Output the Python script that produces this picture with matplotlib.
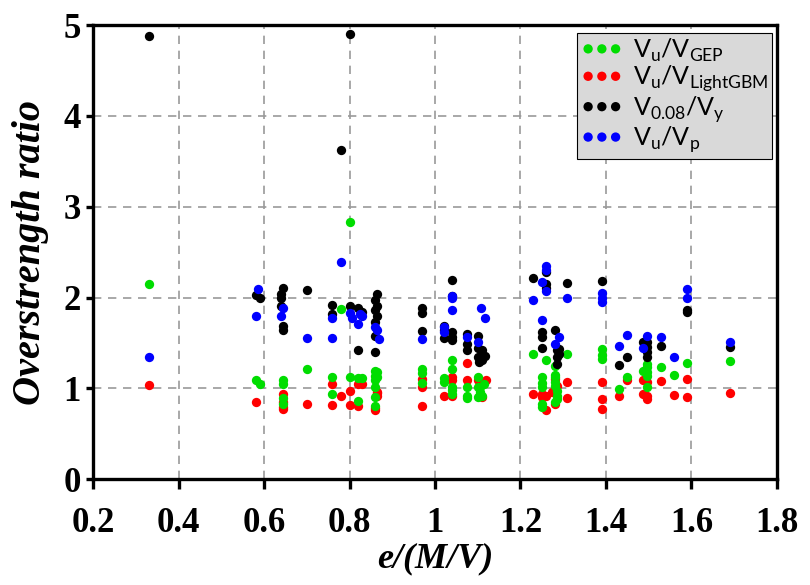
import matplotlib
matplotlib.use('Agg')
import matplotlib.pyplot as plt

# Vu/V_GEP
gep_x = [0.33, 0.58, 0.59, 0.645, 0.645, 0.645, 0.645, 0.70, 0.76, 0.76, 0.78, 0.80, 0.80, 0.82, 0.83, 0.82,
         0.86, 0.865, 0.86, 0.865, 0.86, 0.86, 0.86, 0.86, 0.97, 0.97, 0.97, 1.02, 1.02,
         1.04, 1.04, 1.04, 1.04, 1.04, 1.075, 1.075, 1.075, 1.10, 1.10, 1.10, 1.105, 1.105, 1.11, 1.115,
         1.23, 1.25, 1.25, 1.25, 1.25, 1.25, 1.26, 1.28, 1.28, 1.28, 1.28, 1.28, 1.285, 1.285, 1.285, 1.28,
         1.31, 1.39, 1.39, 1.39, 1.43, 1.45, 1.487, 1.497, 1.497, 1.497, 1.497, 1.497, 1.53, 1.56, 1.59, 1.69]
gep_y = [2.15, 1.09, 1.05, 1.09, 1.05, 0.89, 0.83, 1.21, 1.12, 0.94, 1.87, 2.83, 1.12, 1.11, 1.11, 0.86,
         1.19, 1.18, 1.14, 1.12, 1.09, 1.01, 0.90, 0.81, 1.21, 1.17, 1.06, 1.11, 1.07,
         1.31, 1.21, 1.01, 0.98, 0.94, 1.01, 0.92, 0.89, 1.12, 1.01, 0.90, 1.02, 0.96, 0.91, 1.05,
         1.38, 1.12, 1.06, 1.01, 0.83, 0.79, 1.31, 1.25, 1.15, 1.12, 1.07, 1.03, 0.97, 0.92, 0.88, 0.85,
         1.38, 1.43, 1.37, 1.32, 0.99, 1.13, 1.19, 1.27, 1.23, 1.18, 1.14, 1.01, 1.23, 1.15, 1.28, 1.30]

# Vu/V_LightGBM
lgbm_x = [0.33, 0.58, 0.645, 0.645, 0.645, 0.645, 0.70, 0.76, 0.76, 0.78, 0.80, 0.80, 0.82, 0.83, 0.82,
          0.865, 0.865, 0.865, 0.86, 0.86, 0.97, 0.97, 0.97, 1.02, 1.04, 1.04, 1.04, 1.075, 1.075,
          1.10, 1.11, 1.12, 1.23, 1.25, 1.25, 1.26, 1.26, 1.28, 1.275, 1.285, 1.28, 1.31, 1.31,
          1.39, 1.39, 1.39, 1.43, 1.45, 1.487, 1.497, 1.487, 1.497, 1.497, 1.53, 1.56, 1.59, 1.59, 1.69]
lgbm_y = [1.04, 0.85, 0.94, 0.85, 0.79, 0.77, 0.83, 1.05, 0.82, 0.91, 0.97, 0.82, 1.05, 1.05, 0.80,
          0.96, 0.95, 0.92, 0.78, 0.76, 1.10, 1.02, 0.81, 0.92, 1.12, 1.09, 0.92, 1.28, 1.09,
          1.09, 0.90, 1.09, 0.94, 0.94, 0.90, 0.92, 0.76, 1.10, 0.96, 1.03, 0.83, 1.07, 0.89,
          1.07, 0.88, 0.77, 0.92, 1.09, 1.09, 1.07, 0.94, 0.92, 0.88, 1.08, 0.93, 1.10, 0.90, 0.95]

# V0.08/Vy
v008_x = [0.33, 0.58, 0.59, 0.645, 0.64, 0.64, 0.64, 0.645, 0.645, 0.70, 0.76, 0.76, 0.78, 0.80,
          0.80, 0.82, 0.83, 0.82, 0.865, 0.86, 0.865, 0.86, 0.865, 0.86, 0.86, 0.86,
          0.97, 0.97, 0.97, 1.02, 1.02, 1.02, 1.04, 1.04, 1.04, 1.04, 1.04, 1.075, 1.075, 1.075,
          1.10, 1.10, 1.10, 1.102, 1.11, 1.118, 1.11, 1.23, 1.26, 1.26, 1.26, 1.25, 1.25, 1.25,
          1.28, 1.285, 1.285, 1.285, 1.29, 1.29, 1.31, 1.39, 1.43, 1.45,
          1.487, 1.497, 1.497, 1.497, 1.497, 1.53, 1.59, 1.59, 1.69]
v008_y = [4.88, 2.03, 2.00, 2.10, 2.04, 2.00, 1.91, 1.69, 1.64, 2.08, 1.92, 1.82, 3.62, 4.90,
          1.91, 1.89, 1.84, 1.42, 2.04, 1.97, 1.91, 1.86, 1.80, 1.73, 1.58, 1.40,
          1.88, 1.83, 1.63, 1.69, 1.64, 1.55, 2.19, 2.02, 1.62, 1.56, 1.53, 1.60, 1.49, 1.42,
          1.58, 1.44, 1.34, 1.29, 1.42, 1.36, 1.31, 2.22, 2.28, 2.15, 2.10, 1.62, 1.57, 1.44,
          1.64, 1.42, 1.34, 1.27, 1.43, 1.38, 2.16, 2.18, 1.26, 1.35,
          1.51, 1.51, 1.45, 1.40, 1.35, 1.47, 1.86, 1.84, 1.45]

# Vu/Vp
vp_x = [0.33, 0.585, 0.58, 0.645, 0.64, 0.70, 0.76, 0.76, 0.78, 0.80, 0.805, 0.825, 0.83, 0.82,
        0.86, 0.865, 0.87, 0.97, 1.02, 1.02, 1.04, 1.04, 1.04, 1.075, 1.10, 1.108, 1.118,
        1.23, 1.25, 1.25, 1.26, 1.26, 1.26, 1.28, 1.29, 1.31, 1.39, 1.39, 1.39, 1.43, 1.45,
        1.487, 1.497, 1.53, 1.56, 1.59, 1.59, 1.69]
vp_y = [1.34, 2.09, 1.80, 1.89, 1.80, 1.55, 1.78, 1.55, 2.39, 1.83, 1.78, 1.82, 1.80, 1.71,
        1.67, 1.64, 1.54, 1.54, 1.67, 1.62, 2.02, 2.00, 1.86, 1.56, 1.51, 1.88, 1.77,
        1.97, 2.17, 1.75, 2.35, 2.30, 2.07, 1.49, 1.56, 1.99, 2.05, 1.99, 1.95, 1.47, 1.59,
        1.44, 1.58, 1.57, 1.34, 2.09, 1.99, 1.51]

x_ticks = [0.2, 0.4, 0.6, 0.8, 1.0, 1.2, 1.4, 1.6, 1.8]
x_ticklabels = ['0.2', '0.4', '0.6', '0.8', '1', '1.2', '1.4', '1.6', '1.8']
y_ticks = [0, 1, 2, 3, 4, 5]

serif = 'Liberation Serif'

fig = plt.figure(figsize=(8.1, 5.85), dpi=100)
ax = fig.add_axes([0.115, 0.181, 0.844, 0.776])

ms = 45
r = ax.scatter(lgbm_x, lgbm_y, s=ms, color='#ff0000', linewidths=0, zorder=3)
g = ax.scatter(gep_x, gep_y, s=ms, color='#00dd00', linewidths=0, zorder=3)
k = ax.scatter(v008_x, v008_y, s=ms, color='#000000', linewidths=0, zorder=3)
b = ax.scatter(vp_x, vp_y, s=ms, color='#0000ff', linewidths=0, zorder=3)

ax.set_xlim(0.2, 1.8)
ax.set_ylim(0, 5)
ax.set_xticks(x_ticks)
ax.set_xticklabels(x_ticklabels)
ax.set_yticks(y_ticks)

ax.grid(True, color='#9a9a9a', linestyle=(0, (5, 4)), linewidth=1.2, zorder=0)
ax.set_axisbelow(True)

for sp in ax.spines.values():
    sp.set_linewidth(2.4)
    sp.set_color('black')

ax.tick_params(axis='x', direction='out', length=7, width=2.4, pad=13)
ax.tick_params(axis='y', direction='out', length=5, width=2.4, pad=4)
for lbl in ax.get_xticklabels() + ax.get_yticklabels():
    lbl.set_fontfamily(serif)
    lbl.set_fontweight('bold')
    lbl.set_fontsize(25)

ax.set_xlabel('e/(M/V)', fontfamily=serif, fontweight='bold', fontstyle='italic', fontsize=26, labelpad=2)
ax.set_ylabel('Overstrength ratio', fontfamily=serif, fontweight='bold', fontstyle='italic', fontsize=29, labelpad=10)

labels = [r'V$_{\mathregular{u}}$/V$_{\mathregular{GEP}}$',
          r'V$_{\mathregular{u}}$/V$_{\mathregular{LightGBM}}$',
          r'V$_{\mathregular{0.08}}$/V$_{\mathregular{y}}$',
          r'V$_{\mathregular{u}}$/V$_{\mathregular{p}}$']
leg = ax.legend([g, r, k, b], labels, loc='upper right', bbox_to_anchor=(0.993, 0.983),
                scatterpoints=3, scatteryoffsets=[0.5], markerscale=1.0,
                prop={'family': 'Lato', 'size': 18},
                frameon=True, fancybox=False, facecolor='#d9d9d9', edgecolor='black',
                framealpha=1, borderpad=0.15, labelspacing=0.0, handletextpad=0.4,
                handlelength=1.7, borderaxespad=0.0)
leg.get_frame().set_linewidth(0.8)

fig.savefig('out.png', dpi=100)
